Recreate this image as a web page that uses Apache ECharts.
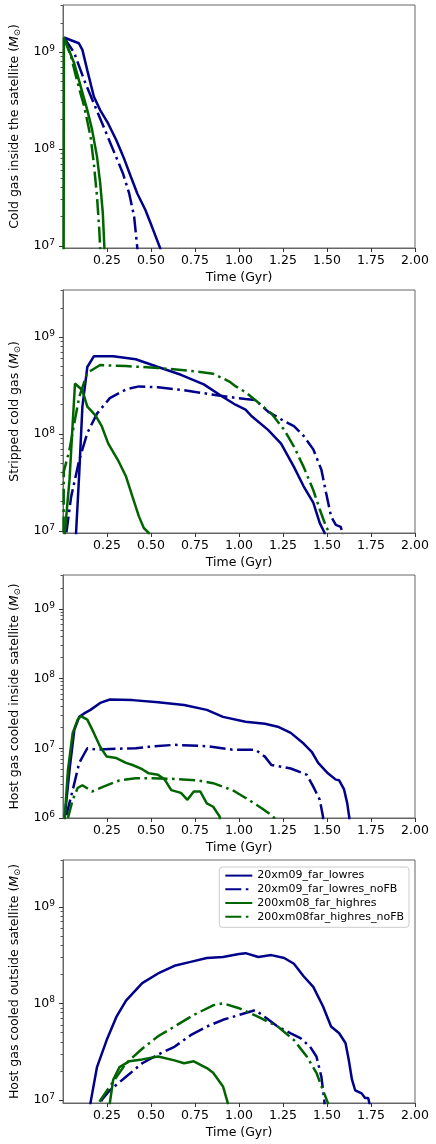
<!DOCTYPE html>
<html>
<head>
<meta charset="utf-8">
<script src="https://cdn.jsdelivr.net/npm/echarts@6/dist/echarts.min.js"></script>
<style>
  html, body { margin: 0; padding: 0; background: #fff; }
  #chart { width: 436px; height: 1144px; }
</style>
</head>
<body>
<div id="chart"></div>
<script>
// run names (legend)
const runNames = ['20xm09_far_lowres', '20xm09_far_lowres_noFB', '200xm08_far_highres', '200xm08far_highres_noFB']

// panel y labels
const panelTitles = [
  'Cold gas inside the satellite',
  'Stripped cold gas',
  'Host gas cooled inside satellite',
  'Host gas cooled outside satellite',
]
const yMins = [9.5e6, 9.5e6, 1e6, 9.3e6]
const yMax = 3.05e9

const xTicks = [0.25, 0.5, 0.75, 1.0, 1.25, 1.5, 1.75, 2.0]
const yMajorTicks = [1e6, 1e7, 1e8, 1e9]
const yMinorTicks = [
  2e6, 3e6, 4e6, 5e6, 6e6, 7e6, 8e6, 9e6,
  2e7, 3e7, 4e7, 5e7, 6e7, 7e7, 8e7, 9e7,
  2e8, 3e8, 4e8, 5e8, 6e8, 7e8, 8e8, 9e8,
  2e9, 3e9,
]

// panel 1: cold gas inside the satellite  [time Gyr, Msun]
const coldLowres = [[0.005, 1.41e9], [0.09, 1.23e9], [0.11, 1.05e9], [0.138, 6.46e8], [0.175, 3.47e8], [0.211, 2.51e8], [0.257, 1.82e8], [0.303, 1.23e8], [0.349, 7.76e7], [0.386, 5.13e7], [0.422, 3.47e7], [0.468, 2.34e7], [0.505, 1.58e7], [0.551, 9.55e6], [0.57, 7e6]]
const coldLowresNoFB = [[0.005, 1.41e9], [0.064, 9.77e8], [0.12, 5.13e8], [0.175, 2.95e8], [0.23, 1.7e8], [0.285, 9.77e7], [0.34, 5.62e7], [0.376, 3.47e7], [0.404, 2.0e7], [0.422, 9.55e6], [0.428, 6e6]]
const coldHighres = [[0.002, 1e5], [0.005, 1.41e9], [0.064, 7.59e8], [0.101, 4.37e8], [0.138, 2.51e8], [0.165, 1.58e8], [0.193, 8.32e7], [0.211, 4.47e7], [0.226, 2.19e7], [0.235, 9.55e6], [0.24, 6e6]]
const coldHighresNoFB = [[0.005, 1.41e9], [0.046, 8.91e8], [0.083, 4.79e8], [0.12, 2.75e8], [0.156, 1.35e8], [0.175, 7.08e7], [0.193, 3.24e7], [0.206, 1.45e7], [0.211, 9.55e6], [0.214, 6e6]]

// panel 2: stripped cold gas
const stripLowres = [[0.07, 5e6], [0.074, 9.55e6], [0.092, 3.89e7], [0.11, 1.91e8], [0.138, 4.9e8], [0.175, 6.31e8], [0.285, 6.31e8], [0.413, 5.89e8], [0.54, 4.9e8], [0.67, 4.07e8], [0.8, 3.24e8], [0.909, 2.4e8], [0.98, 2.0e8], [1.037, 1.78e8], [1.074, 1.51e8], [1.165, 1.1e8], [1.239, 7.94e7], [1.312, 4.57e7], [1.367, 2.88e7], [1.422, 1.95e7], [1.459, 1.2e7], [1.486, 9.55e6], [1.5, 6e6]]
const stripLowresNoFB = [[0.015, 5e6], [0.019, 9.55e6], [0.046, 2.24e7], [0.092, 5.37e7], [0.138, 1.02e8], [0.193, 1.62e8], [0.266, 2.34e8], [0.358, 2.88e8], [0.431, 3.09e8], [0.54, 3.02e8], [0.688, 2.82e8], [0.835, 2.57e8], [0.945, 2.4e8], [1.037, 2.29e8], [1.092, 2.24e8], [1.165, 1.7e8], [1.257, 1.35e8], [1.312, 1.2e8], [1.367, 9.55e7], [1.422, 6.92e7], [1.468, 4.27e7], [1.495, 2.45e7], [1.523, 1.41e7], [1.55, 1.15e7], [1.578, 1.1e7], [1.587, 9.55e6], [1.59, 6e6]]
const stripHighres = [[0.008, 5e6], [0.01, 9.55e6], [0.037, 3.39e7], [0.055, 1.29e8], [0.068, 3.31e8], [0.079, 3.47e8], [0.11, 2.82e8], [0.138, 1.91e8], [0.184, 1.55e8], [0.22, 1.2e8], [0.257, 7.94e7], [0.312, 5.37e7], [0.358, 3.63e7], [0.395, 2.24e7], [0.431, 1.41e7], [0.459, 1.07e7], [0.487, 9.55e6], [0.49, 6e6]]
const stripHighresNoFB = [[0.003, 5e6], [0.004, 4.07e7], [0.037, 6.92e7], [0.064, 1.29e8], [0.092, 2.4e8], [0.138, 4.27e8], [0.211, 5.13e8], [0.358, 5.01e8], [0.54, 4.79e8], [0.725, 4.47e8], [0.853, 4.17e8], [0.945, 3.47e8], [0.982, 3.09e8], [1.037, 2.69e8], [1.092, 2.24e8], [1.184, 1.62e8], [1.257, 1.1e8], [1.312, 7.41e7], [1.367, 4.57e7], [1.422, 2.63e7], [1.459, 1.66e7], [1.495, 1.1e7], [1.514, 9.55e6], [1.52, 6e6]]

// panel 3: host gas cooled inside satellite
const inLowres = [[0.01, 1.05e6], [0.037, 4.9e6], [0.064, 1.82e7], [0.092, 2.82e7], [0.12, 3.16e7], [0.156, 3.55e7], [0.211, 4.47e7], [0.266, 5.01e7], [0.395, 4.9e7], [0.54, 4.57e7], [0.688, 4.17e7], [0.817, 3.55e7], [0.909, 2.82e7], [1.037, 2.4e7], [1.147, 2.24e7], [1.22, 2.04e7], [1.294, 1.66e7], [1.367, 1.17e7], [1.413, 8.91e6], [1.45, 6.17e6], [1.505, 4.37e6], [1.55, 3.55e6], [1.569, 3.47e6], [1.597, 2.57e6], [1.615, 1.62e6], [1.627, 1.0e6], [1.63, 5e5]]
const inLowresNoFB = [[0.019, 1.1e6], [0.055, 2.51e6], [0.092, 6.17e6], [0.138, 1.0e7], [0.193, 9.55e6], [0.266, 9.77e6], [0.413, 1.0e7], [0.487, 1.05e7], [0.633, 1.12e7], [0.817, 1.07e7], [0.963, 9.55e6], [1.092, 9.55e6], [1.147, 7.59e6], [1.184, 5.75e6], [1.294, 5.13e6], [1.385, 4.17e6], [1.422, 2.82e6], [1.459, 1.82e6], [1.477, 1.05e6], [1.48, 5e5]]
const inHighres = [[0.008, 5e5], [0.01, 1.05e6], [0.028, 4.9e6], [0.055, 1.66e7], [0.083, 2.57e7], [0.101, 2.88e7], [0.138, 2.57e7], [0.175, 1.66e7], [0.211, 1.05e7], [0.248, 7.59e6], [0.303, 7.24e6], [0.358, 6.17e6], [0.395, 5.75e6], [0.45, 5.01e6], [0.487, 4.37e6], [0.54, 4.17e6], [0.578, 3.55e6], [0.615, 2.51e6], [0.67, 2.29e6], [0.707, 1.82e6], [0.743, 2.4e6], [0.78, 2.4e6], [0.817, 1.62e6], [0.853, 1.45e6], [0.89, 1.05e6], [0.9, 5e5]]
const inHighresNoFB = [[0.028, 1.0e6], [0.055, 1.82e6], [0.083, 2.69e6], [0.11, 2.95e6], [0.165, 2.4e6], [0.23, 2.82e6], [0.321, 3.47e6], [0.413, 3.72e6], [0.505, 3.72e6], [0.633, 3.63e6], [0.762, 3.47e6], [0.853, 3.16e6], [0.963, 2.51e6], [1.055, 1.82e6], [1.129, 1.38e6], [1.184, 1.1e6], [1.211, 9.55e5], [1.22, 5e5]]

// panel 4: host gas cooled outside satellite
const outLowres = [[0.15, 5e6], [0.156, 9.33e6], [0.193, 2.19e7], [0.248, 4.17e7], [0.303, 7.24e7], [0.358, 1.07e8], [0.45, 1.62e8], [0.54, 2.04e8], [0.633, 2.45e8], [0.725, 2.69e8], [0.817, 2.95e8], [0.909, 3.02e8], [1.0, 3.24e8], [1.037, 3.31e8], [1.11, 3.02e8], [1.184, 3.16e8], [1.257, 2.95e8], [1.312, 2.57e8], [1.367, 1.91e8], [1.422, 1.48e8], [1.477, 9.33e7], [1.523, 5.75e7], [1.569, 4.9e7], [1.605, 3.89e7], [1.624, 2.57e7], [1.642, 1.62e7], [1.66, 1.26e7], [1.697, 1.17e7], [1.716, 1.05e7], [1.734, 1.05e7], [1.743, 8.91e6], [1.75, 5e6]]
const outLowresNoFB = [[0.215, 5e6], [0.22, 1.0e7], [0.266, 1.26e7], [0.358, 1.74e7], [0.45, 2.4e7], [0.54, 2.95e7], [0.633, 3.55e7], [0.725, 4.68e7], [0.817, 5.75e7], [0.909, 6.76e7], [0.963, 7.24e7], [1.037, 7.94e7], [1.092, 8.51e7], [1.147, 7.24e7], [1.22, 5.75e7], [1.294, 4.9e7], [1.349, 4.37e7], [1.404, 3.55e7], [1.44, 2.82e7], [1.468, 1.74e7], [1.486, 9.33e6], [1.49, 5e6]]
const outHighres = [[0.262, 5e6], [0.266, 9.33e6], [0.285, 1.62e7], [0.321, 2.19e7], [0.376, 2.51e7], [0.45, 2.63e7], [0.54, 2.82e7], [0.633, 2.57e7], [0.688, 2.4e7], [0.743, 2.51e7], [0.817, 2.14e7], [0.853, 1.91e7], [0.909, 1.38e7], [0.936, 9.33e6], [0.94, 5e6]]
const outHighresNoFB = [[0.2, 5e6], [0.202, 9.33e6], [0.266, 1.38e7], [0.358, 2.4e7], [0.45, 3.39e7], [0.54, 4.57e7], [0.633, 5.75e7], [0.743, 7.59e7], [0.853, 9.55e7], [0.909, 1.0e8], [1.0, 8.91e7], [1.11, 7.24e7], [1.22, 5.75e7], [1.312, 4.17e7], [1.385, 2.82e7], [1.44, 1.91e7], [1.477, 1.26e7], [1.505, 9.33e6], [1.51, 5e6]]

const panelData = [
  [coldLowres, coldLowresNoFB, coldHighres, coldHighresNoFB],
  [stripLowres, stripLowresNoFB, stripHighres, stripHighresNoFB],
  [inLowres, inLowresNoFB, inHighres, inHighresNoFB],
  [outLowres, outLowresNoFB, outHighres, outHighresNoFB],
]

const FONT = 'DejaVu Sans'
const blue = '#00008b'
const green = '#006400'
const runColors = [blue, blue, green, green]
const dashDot = [16, 4.5, 2.6, 4.5]
const runDash = ['solid', dashDot, 'solid', dashDot]
const spine = '#666'
const gridTops = [5, 290, 575, 860]

const chart = echarts.init(document.getElementById('chart'), null, { renderer: 'canvas' })

const grids = gridTops.map(top => ({
  left: 52, right: 21, top, height: 243,
  show: true, borderColor: spine, borderWidth: 1, backgroundColor: '#fff',
}))

const xAxes = gridTops.map((_, p) => ({
  gridIndex: p,
  type: 'value',
  min: 0,
  max: 2,
  name: 'Time (Gyr)',
  nameLocation: 'middle',
  nameGap: 23,
  nameTextStyle: { fontFamily: FONT, fontSize: 12.5, color: '#000' },
  axisLine: { lineStyle: { color: spine, width: 1 } },
  axisTick: { customValues: xTicks, length: 4, lineStyle: { color: '#333' } },
  axisLabel: {
    customValues: xTicks,
    formatter: v => v.toFixed(2),
    fontFamily: FONT, fontSize: 12.5, color: '#000', margin: 6,
  },
  splitLine: { show: false },
}))

const yAxes = []
gridTops.forEach((_, p) => {
  yAxes.push({
    gridIndex: p,
    type: 'log',
    position: 'left',
    min: yMins[p],
    max: yMax,
    name: '{t|' + panelTitles[p] + ' (}{m|M}{o|⊙}{t|)}',
    nameLocation: 'middle',
    nameRotate: 90,
    nameGap: 33,
    nameTextStyle: {
      rich: {
        t: { fontFamily: FONT, fontSize: 12.5, color: '#000', lineHeight: 16 },
        m: { fontFamily: FONT, fontSize: 12.5, color: '#000', fontStyle: 'italic', lineHeight: 16 },
        o: { fontFamily: FONT, fontSize: 8.5, color: '#000', verticalAlign: 'bottom', lineHeight: 16 },
      },
    },
    axisLine: { lineStyle: { color: spine, width: 1 } },
    axisTick: { customValues: yMajorTicks, length: 4, lineStyle: { color: '#333' } },
    axisLabel: {
      customValues: yMajorTicks,
      formatter: v => '{b|10}{s|' + Math.round(Math.log10(v)) + '}',
      margin: 8,
      rich: {
        b: { fontFamily: FONT, fontSize: 12.5, color: '#000', lineHeight: 16 },
        s: { fontFamily: FONT, fontSize: 9, color: '#000', verticalAlign: 'top', lineHeight: 16 },
      },
    },
    splitLine: { show: false },
  })
  yAxes.push({
    gridIndex: p,
    type: 'log',
    position: 'left',
    min: yMins[p],
    max: yMax,
    axisLine: { show: false },
    axisTick: { customValues: yMinorTicks, length: 2.5, lineStyle: { color: '#555' } },
    axisLabel: { show: false },
    splitLine: { show: false },
  })
})

const series = []
panelData.forEach((runs, p) => {
  runs.forEach((data, r) => {
    series.push({
      name: runNames[r],
      type: 'line',
      xAxisIndex: p,
      yAxisIndex: 2 * p,
      data,
      symbol: 'none',
      showSymbol: false,
      clip: true,
      color: runColors[r],
      lineStyle: { color: runColors[r], width: 2.5, type: runDash[r] },
    })
  })
})

chart.setOption({
  animation: false,
  backgroundColor: '#fff',
  grid: grids,
  xAxis: xAxes,
  yAxis: yAxes,
  legend: {
    data: runNames,
    orient: 'vertical',
    right: 27,
    top: 867,
    itemWidth: 27,
    itemHeight: 14,
    itemGap: 2.5,
    padding: [3, 5, 5, 5],
    borderColor: '#ccc',
    borderWidth: 1,
    borderRadius: 3,
    backgroundColor: 'rgba(255,255,255,0.8)',
    itemStyle: { opacity: 0 },
    textStyle: { fontFamily: FONT, fontSize: 11, color: '#000' },
  },
  series,
})
</script>
</body>
</html>
